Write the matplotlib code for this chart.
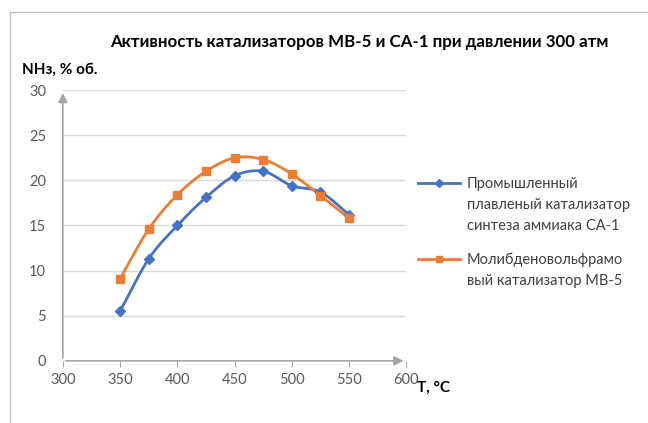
import matplotlib.pyplot as plt
import numpy as np
from matplotlib.lines import Line2D

plt.rcParams['font.family'] = ['Lato', 'DejaVu Sans']

# data
temps = [350, 375, 400, 425, 450, 475, 500, 525, 550]
sa1 = [5.5, 11.3, 15.0, 18.1, 20.5, 21.0, 19.4, 18.7, 16.2]
mv5 = [9.1, 14.6, 18.4, 21.0, 22.5, 22.3, 20.7, 18.3, 15.8]
x_ticks = [300, 350, 400, 450, 500, 550, 600]
y_ticks = [0, 5, 10, 15, 20, 25, 30]
label_sa1 = 'Промышленный\nплавленый катализатор\nсинтеза аммиака СА-1'
label_mv5 = 'Молибденовольфрамо\nвый катализатор МВ-5'
title = 'Активность катализаторов МВ-5 и СА-1 при давлении 300 атм'


def smooth(xs, ys, n=20):
    # catmull-rom, like excel "smoothed line"
    xs = np.asarray(xs, float)
    ys = np.asarray(ys, float)
    px = np.concatenate([[2*xs[0]-xs[1]], xs, [2*xs[-1]-xs[-2]]])
    py = np.concatenate([[2*ys[0]-ys[1]], ys, [2*ys[-1]-ys[-2]]])
    t = np.linspace(0, 1, n)
    outx, outy = [], []
    for i in range(1, len(px)-2):
        for p, out in ((px, outx), (py, outy)):
            p0, p1, p2, p3 = p[i-1], p[i], p[i+1], p[i+2]
            out.extend(0.5*((2*p1) + (-p0+p2)*t + (2*p0-5*p1+4*p2-p3)*t**2
                            + (-p0+3*p1-3*p2+p3)*t**3))
    return outx, outy


W, H = 648, 423
fig = plt.figure(figsize=(6.48, 4.23), dpi=100)
ax = fig.add_axes([0.097, 0.147, 0.53, 0.64])

blue = '#4472C4'
orange = '#ED7D31'
gray = '#A6A6A6'

sx, sy = smooth(temps, sa1)
ax.plot(sx, sy, color=blue, lw=2, zorder=3)
ax.plot(temps, sa1, color=blue, lw=0, marker='D', ms=5, zorder=4)
ox, oy = smooth(temps, mv5)
ax.plot(ox, oy, color=orange, lw=2, zorder=3)
ax.plot(temps, mv5, color=orange, lw=0, marker='s', ms=6, zorder=4)

ax.set_xlim(300, 600)
ax.set_ylim(0, 30)
ax.set_xticks(x_ticks)
ax.set_yticks(y_ticks)
for s in ax.spines.values():
    s.set_visible(False)
ax.yaxis.grid(True, color='#D9D9D9', lw=1)
ax.set_axisbelow(True)
ax.tick_params(axis='y', length=0, pad=12, labelsize=10.5, labelcolor='#595959')
ax.tick_params(axis='x', length=4, color=gray, pad=5, labelsize=10.5, labelcolor='#595959')

# arrow axes
ax.annotate('', xy=(0, 1.0), xytext=(0, 0), xycoords='axes fraction',
            arrowprops=dict(arrowstyle='-|>', color=gray, lw=1.2, mutation_scale=14), zorder=5)
ax.annotate('', xy=(1.0, 0), xytext=(0, 0), xycoords='axes fraction',
            arrowprops=dict(arrowstyle='-|>', color=gray, lw=1.2, mutation_scale=14), zorder=5)

fig.text(0.555, 0.9, title, ha='center', va='center', fontsize=12.2, fontweight='bold')
fig.text(0.034, 0.835, 'NH\u0437, % об.', ha='left', va='center', fontsize=11, fontweight='bold')
fig.text(0.643, 0.083, 'T, °C', ha='left', va='center', fontsize=11, fontweight='bold')

# legend drawn by hand so that the line spacing matches
entries = [(label_sa1, blue, 'D', 4.5, 183), (label_mv5, orange, 's', 5, 259)]
for label, col, mk, ms, ypix in entries:
    yf = 1 - ypix / H
    fig.add_artist(Line2D([418/W, 460/W], [yf, yf], color=col, lw=2))
    fig.add_artist(Line2D([439/W], [yf], color=col, marker=mk, ms=ms, lw=0))
    fig.text(467/W, yf + 6.5/H, label, ha='left', va='top', fontsize=10.5,
             color='#404040', linespacing=1.68)

# chart border
fig.add_artist(Line2D([10/W, 10/W], [0, 1-12/H], color='#BFBFBF', lw=1))
fig.add_artist(Line2D([10/W, 1], [1-12/H, 1-12/H], color='#BFBFBF', lw=1))

fig.savefig('out.png', dpi=100)
